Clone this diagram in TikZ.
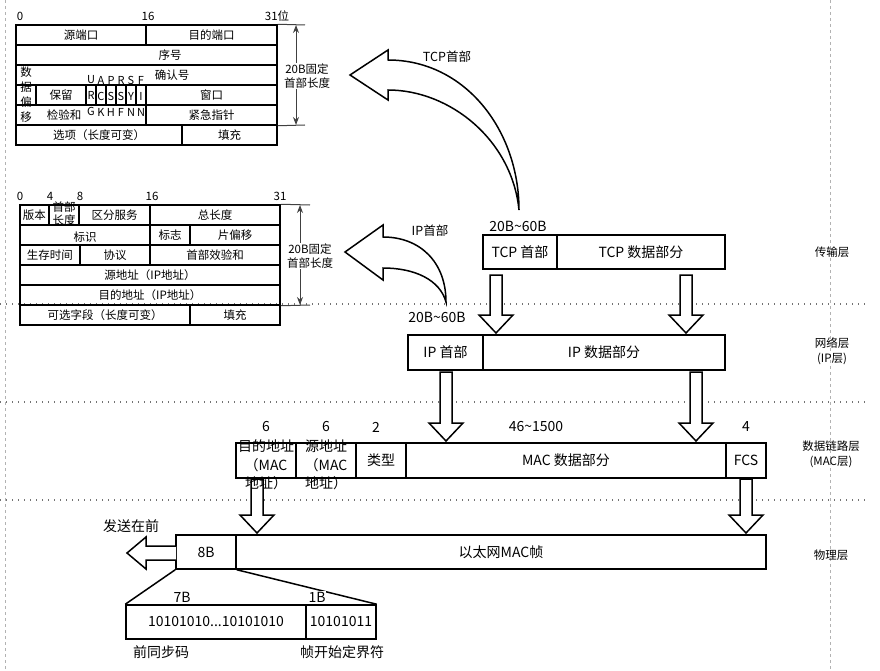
\documentclass[tikz,border=0pt]{standalone}
\usepackage{fontspec}
\setmainfont{Noto Sans CJK SC}
\usetikzlibrary{arrows.meta}
\newcommand\myTab{\fontsize{11.5}{13.5}\selectfont}
\newcommand\myMain{\fontsize{14}{18.5}\selectfont}
\newcommand\myLab{\fontsize{11.5}{15}\selectfont}
\newcommand\myCur{\fontsize{12.5}{15}\selectfont}
\newcommand\cellat[6]{\node[cell, minimum width={(#4)-(#2)}, minimum height={(#5)-(#3)}] (#1) at ({((#2)+(#4))/2},{((#3)+(#5))/2}) {#6};}
\newcommand\blockdown[3]{\draw[hollow] ({#1-6},#2) -- ({#1-6},{#3-18}) -- ({#1-17},{#3-18}) -- (#1,#3) -- ({#1+17},{#3-18}) -- ({#1+6},{#3-18}) -- ({#1+6},#2) -- cycle;}
\begin{document}
\begin{tikzpicture}[x=1pt,y=-1pt,
  cell/.style={draw, line width=1.5pt, inner sep=0pt},
  txt/.style={inner sep=0pt, align=center},
  layerline/.style={black!55, line width=1.3pt, dash pattern=on 1.3pt off 4.7pt},
  pageline/.style={black!30, line width=0.6pt, dash pattern=on 3pt off 3pt},
  hollow/.style={draw, fill=white, line width=1.5pt, line join=miter},
  dimline/.style={black!75, line width=1pt},
  dimarrow/.style={black!75, line width=1pt, {Stealth[length=8pt,width=6pt]}-{Stealth[length=8pt,width=6pt]}},
  thinlink/.style={line width=1.5pt}]
\useasboundingbox (0,0) rectangle (880,671);

% page and layer separators
\draw[pageline] (5,0) -- (5,671);
\draw[pageline] (830,0) -- (830,671);
\foreach \yy in {304,402,500} \draw[layerline] (0,\yy) -- (868,\yy);

% ---------------- TCP header table ----------------
\begin{scope}[every node/.append style={font=\myTab}]
\cellat{t1a}{16}{25}{146}{45}{源端口}
\cellat{t1b}{146}{25}{277}{45}{目的端口}
\cellat{t2}{16}{45}{277}{65}{}
\cellat{t3}{16}{65}{277}{85}{}
\cellat{t4a}{16}{85}{36}{105}{}
\cellat{t4b}{36}{85}{86}{105}{保留}
\foreach \i in {0,...,5} {\cellat{flag\i}{86+10*\i}{85}{96+10*\i}{105}{}}
\cellat{t4w}{146}{85}{277}{105}{窗口}
\cellat{t5a}{16}{105}{146}{125}{}
\cellat{t5b}{146}{105}{277}{125}{紧急指针}
\cellat{t6a}{16}{125}{182}{145}{选项（长度可变）}
\cellat{t6b}{182}{125}{277}{145}{填充}
\node[txt] (tseq) at (170,55) {序号};
\node[txt] (tack) at (172,75) {确认号};
\node[txt] (tchk) at (64,115) {检验和};
\node[txt, font=\fontsize{11.5}{15}\selectfont] (toff) at (26,95) {数\\据\\偏\\移};
\foreach \i/\fa/\fb/\fc in {0/U/R/G,1/A/C/K,2/P/S/H,3/R/S/F,4/S/Y/N,5/F/I/N}
  {\node[txt, font=\fontsize{11}{16}\selectfont] at ({91+10*\i},96) {\fa\\\fb\\\fc};}
\node[txt] (tn0) at (20,16) {0};
\node[txt] (tn16) at (148,16) {16};
\node[txt] (tn31) at (277,16) {31位};
\coordinate (tdt1) at (305,25);
\coordinate (tdt2) at (305,125);
\draw[dimline] (t1b.north east) -- (tdt1);
\draw[dimline] (t5b.south east) -- (tdt2);
\coordinate (tda) at (296,25);
\coordinate (tdb) at (296,125);
\draw[dimarrow] (tda) -- (tdb);
\node[txt, fill=white, inner sep=1pt] (tdl) at (307,76) {20B固定\\首部长度};
\end{scope}

% ---------------- IP header table ----------------
\begin{scope}[every node/.append style={font=\myTab}]
\cellat{i1a}{20}{205}{49}{225}{版本}
\cellat{i1b}{49}{205}{79}{225}{}
\cellat{i1c}{79}{205}{150}{225}{区分服务}
\cellat{i1d}{150}{205}{280}{225}{总长度}
\cellat{i2a}{20}{225}{150}{245}{}
\cellat{i2b}{150}{225}{190}{245}{标志}
\cellat{i2c}{190}{225}{280}{245}{片偏移}
\cellat{i3a}{20}{245}{80}{265}{生存时间}
\cellat{i3b}{80}{245}{150}{265}{协议}
\cellat{i3c}{150}{245}{280}{265}{首部效验和}
\cellat{i4}{20}{265}{280}{285}{源地址（IP地址）}
\cellat{i5}{20}{285}{280}{305}{目的地址（IP地址）}
\cellat{i6a}{20}{305}{190}{325}{可选字段（长度可变）}
\cellat{i6b}{190}{305}{280}{325}{填充}
\node[txt, font=\fontsize{11.5}{13}\selectfont] (ihl) at (64,214) {首部\\长度};
\node[txt] (iid) at (85,237) {标识};
\node[txt] (in0) at (20,196) {0};
\node[txt] (in4) at (50,196) {4};
\node[txt] (in8) at (80,196) {8};
\node[txt] (in16) at (152,196) {16};
\node[txt] (in31) at (280,196) {31};
\coordinate (idt1) at (310,205);
\coordinate (idt2) at (310,305);
\draw[dimline] (i1d.north east) -- (idt1);
\draw[dimline] (i5.south east) -- (idt2);
\coordinate (ida) at (300,205);
\coordinate (idb) at (300,305);
\draw[dimarrow] (ida) -- (idb);
\node[txt, fill=white, inner sep=1pt] (idl) at (310,256) {20B固定\\首部长度};
\end{scope}

% ---------------- main boxes ----------------
\begin{scope}[every node/.append style={font=\myMain}]
\cellat{tcph}{483}{235}{557}{269}{TCP 首部}
\cellat{tcpd}{557}{235}{725}{269}{TCP 数据部分}
\cellat{iph}{408}{335}{483}{370}{IP 首部}
\cellat{ipd}{483}{335}{725}{370}{IP 数据部分}
\cellat{macda}{236}{443}{296}{478}{}
\cellat{macsa}{296}{443}{356}{478}{}
\cellat{mactype}{356}{443}{406}{478}{类型}
\cellat{macdata}{406}{443}{726}{478}{MAC 数据部分}
\cellat{macfcs}{726}{443}{766}{478}{FCS}
\cellat{fr8}{176}{535}{236}{569}{8B}
\cellat{frm}{236}{535}{766}{569}{以太网MAC帧}
\cellat{pre1}{126}{605}{306}{639}{10101010...10101010}
\cellat{pre2}{306}{605}{376}{639}{10101011}
\end{scope}

% block arrows
\blockdown{496}{275}{333}
\blockdown{686}{275}{333}
\blockdown{446}{372}{441}
\blockdown{696}{372}{441}
\blockdown{257}{479}{533}
\blockdown{746}{479}{533}
\draw[hollow] (176,546) -- (146,546) -- (146,537) -- (127,553) -- (146,569) -- (146,560) -- (176,560);

% curved arrows
\draw[hollow] (519,210) .. controls (519,130) and (465,60) .. (388,60) -- (388,50) -- (350,75) -- (388,100) -- (388,90) .. controls (450,90) and (512,140) .. (519,210) -- cycle;
\draw[hollow] (446,302) .. controls (446,262) and (420,237) .. (383,237) -- (383,225) -- (345,252) -- (383,280) -- (383,268) .. controls (415,268) and (440,280) .. (446,302) -- cycle;

% preamble fan lines
\draw[thinlink] (fr8.south west) -- (pre1.north west);
\draw[thinlink] (fr8.south east) -- (pre2.north east);

% texts
\begin{scope}[every node/.append style={font=\myMain}]
\node[txt] (mda) at (266,465) {目的地址\\（MAC\\地址）};
\node[txt] (msa) at (326,465) {源地址\\（MAC\\地址）};
\node[txt] (l1) at (518,226) {20B\textasciitilde60B};
\node[txt] (l2) at (437,317) {20B\textasciitilde60B};
\node[txt] (l3) at (266,427) {6};
\node[txt] (l4) at (326,427) {6};
\node[txt] (l5) at (376,427) {2};
\node[txt] (l6) at (536,427) {46\textasciitilde1500};
\node[txt] (l7) at (746,427) {4};
\node[txt] (l8) at (131,526) {发送在前};
\node[txt] (l9) at (182,597) {7B};
\node[txt, fill=white, inner sep=0.5pt] (l10) at (317,597) {1B};
\node[txt] (l11) at (161,652) {前同步码};
\node[txt] (l12) at (342,652) {帧开始定界符};
\end{scope}
\node[txt, font=\myCur] (ctcp) at (447,57) {TCP首部};
\node[txt, font=\myCur] (cip) at (430,231) {IP首部};
\begin{scope}[every node/.append style={font=\myLab}]
\node[txt] (ly1) at (832,252) {传输层};
\node[txt] (ly2) at (832,351) {网络层\\(IP层)};
\node[txt] (ly3) at (831,454) {数据链路层\\(MAC层)};
\node[txt] (ly4) at (831,555) {物理层};
\end{scope}
\end{tikzpicture}
\end{document}
